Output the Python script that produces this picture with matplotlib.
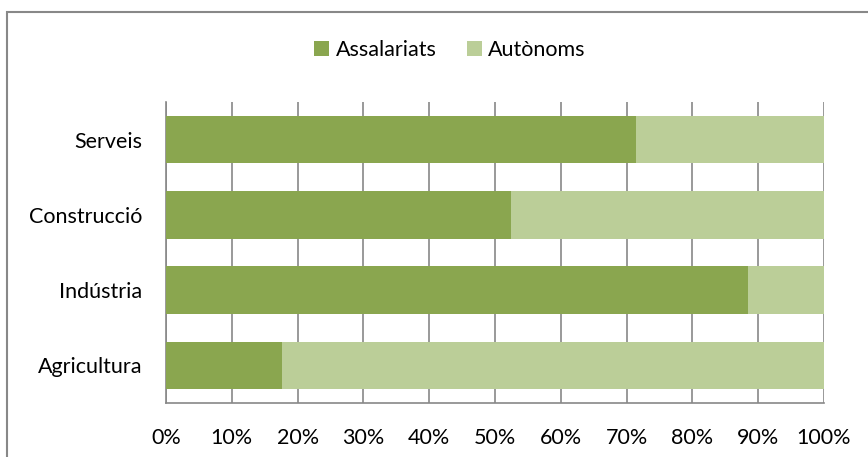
import matplotlib
matplotlib.use("Agg")
import matplotlib.pyplot as plt
from matplotlib.patches import Rectangle
from matplotlib.ticker import FuncFormatter

categories = ["Agricultura", "Indústria", "Construcció", "Serveis"]
assalariats = [17.6, 88.4, 52.5, 71.4]
autonoms = [82.4, 11.6, 47.5, 28.6]
series_names = ["Assalariats", "Autònoms"]
xticks = [0, 10, 20, 30, 40, 50, 60, 70, 80, 90, 100]

dark = "#8aa64f"
light = "#bbce98"
grid_col = "#888888"

plt.rcParams['font.family'] = ['Lato', 'DejaVu Sans']
fs = 15.5

fig = plt.figure(figsize=(8.68, 4.57), dpi=100)
ax = fig.add_axes([166/868, 1-403/457, 658/868, 301/457])

y = range(len(categories))
ax.barh(y, assalariats, height=0.63, color=dark, label=series_names[0], zorder=3)
ax.barh(y, autonoms, left=assalariats, height=0.63, color=light, label=series_names[1], zorder=3)

ax.set_xlim(0, 100)
ax.set_ylim(-0.5, 3.5)
ax.set_yticks(list(y))
ax.set_yticklabels(categories, fontsize=fs)
ax.set_xticks(xticks)
ax.xaxis.set_major_formatter(FuncFormatter(lambda v, p: f"{int(v)}%"))
ax.tick_params(axis='x', labelsize=fs, length=0, pad=18)
ax.tick_params(axis='y', length=0, pad=17)
ax.grid(axis='x', color=grid_col, linewidth=1.2, zorder=0)
for s in ["top", "right"]:
    ax.spines[s].set_visible(False)
for s in ["left", "bottom"]:
    ax.spines[s].set_color(grid_col)
    ax.spines[s].set_linewidth(1.2)

fig.legend(loc="center", bbox_to_anchor=(450/868, 1-50/457), ncol=2, frameon=False,
           fontsize=fs, handlelength=0.7, handleheight=0.7, handletextpad=0.3,
           columnspacing=1.4)

border = Rectangle((7/868, -0.2), 1.2, 0.2 + (1 - 12/457), transform=fig.transFigure,
                   fill=False, edgecolor="#888888", linewidth=1.5)
fig.patches.append(border)

fig.savefig("out.png", dpi=100)
